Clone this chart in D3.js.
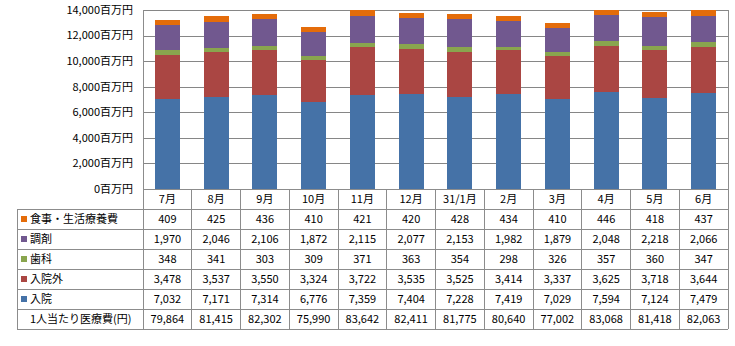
<!DOCTYPE html>
<html><head><meta charset="utf-8">
<script src="https://cdn.jsdelivr.net/npm/d3@7/dist/d3.min.js"></script>
<style>
html,body{margin:0;padding:0;background:#fff;}
svg{display:block;font-family:"Noto Sans CJK JP","Noto Sans",sans-serif;}
</style></head>
<body><svg id="c" width="735" height="346"></svg>
<script>
const months = ["7月","8月","9月","10月","11月","12月","31/1月","2月","3月","4月","5月","6月"];
const nyuin    = [7032,7171,7314,6776,7359,7404,7228,7419,7029,7594,7124,7479];
const nyuingai = [3478,3537,3550,3324,3722,3535,3525,3414,3337,3625,3718,3644];
const shika    = [348,341,303,309,371,363,354,298,326,357,360,347];
const chozai   = [1970,2046,2106,1872,2115,2077,2153,1982,1879,2048,2218,2066];
const shokuji  = [409,425,436,410,421,420,428,434,410,446,418,437];
const perCapita = [79864,81415,82302,75990,83642,82411,81775,80640,77002,83068,81418,82063];
const yTicks = [0,2000,4000,6000,8000,10000,12000,14000];
const seriesNames = ["入院","入院外","歯科","調剤","食事・生活療養費"];
const seriesColors = ["#4572A7","#AA4643","#89A54E","#71588F","#E46C0A"];
const seriesValues = [nyuin, nyuingai, shika, chozai, shokuji];
const perCapitaLabel = "1人当たり医療費(円)";
const unit = "百万円";

const svg = d3.select("#c");
const L = 143, R = 728, T = 10, B = 189, tableLeft = 17, rowH = 20;

const x = d3.scaleBand().domain(months).range([L, R]).paddingInner(0.49).paddingOuter(0.245);
const y = d3.scaleLinear().domain([0, 14000]).range([B, T]);

// gridlines
const gridAxis = d3.axisLeft(y).tickValues(yTicks).tickSize(-(R - L)).tickFormat("");
const g = svg.append("g").attr("transform", `translate(${L},0)`).call(gridAxis);
g.select(".domain").remove();
g.selectAll("line").attr("stroke", "#868686").attr("shape-rendering", "crispEdges");

// y labels
svg.append("g").selectAll("text").data(yTicks).join("text")
  .attr("x", 133).attr("y", d => y(d)).attr("dy", "0.35em")
  .attr("text-anchor", "end").attr("font-size", 11).attr("fill", "#000")
  .text(d => d3.format(",")(d) + unit);

// stacked bars
const table = months.map((m, i) => {
  const o = { month: m };
  seriesNames.forEach((s, k) => o[s] = seriesValues[k][i]);
  return o;
});
const stack = d3.stack().keys(seriesNames)(table);
svg.append("clipPath").attr("id", "clip").append("rect").attr("x", L).attr("y", T).attr("width", R - L).attr("height", B - T);
const bars = svg.append("g").attr("clip-path", "url(#clip)");
stack.forEach((layer, k) => {
  bars.append("g").attr("fill", seriesColors[k]).selectAll("rect").data(layer).join("rect")
    .attr("x", d => x(d.data.month)).attr("width", x.bandwidth())
    .attr("y", d => y(d[1])).attr("height", d => y(d[0]) - y(d[1]))
    .attr("shape-rendering", "crispEdges");
});

// table lines
const lines = svg.append("g").attr("stroke", "#8c8c8c").attr("shape-rendering", "crispEdges");
const rowsTotal = 6;
const tableBottom = B + rowH * (rowsTotal + 1);
// verticals
lines.append("line").attr("x1", L).attr("x2", L).attr("y1", T).attr("y2", tableBottom);
lines.append("line").attr("x1", R).attr("x2", R).attr("y1", T).attr("y2", tableBottom);
lines.append("line").attr("x1", tableLeft).attr("x2", tableLeft).attr("y1", B + rowH).attr("y2", tableBottom);
const step = x.step();
months.slice(1).forEach((m, i) => {
  const xx = L + step * (i + 1);
  lines.append("line").attr("x1", xx).attr("x2", xx).attr("y1", B).attr("y2", tableBottom);
});
// horizontals
lines.append("line").attr("x1", L).attr("x2", R).attr("y1", B).attr("y2", B);
for (let r = 1; r <= rowsTotal + 1; r++) {
  const yy = B + rowH * r;
  lines.append("line").attr("x1", tableLeft).attr("x2", R).attr("y1", yy).attr("y2", yy);
}

// header labels
svg.append("g").selectAll("text").data(months).join("text")
  .attr("x", d => x(d) + x.bandwidth() / 2).attr("y", B + rowH / 2).attr("dy", "0.35em")
  .attr("text-anchor", "middle").attr("font-size", 11).attr("fill", "#000").text(d => d);

// rows (top to bottom: reverse series order) + per capita
const rowDefs = seriesNames.map((s, k) => ({ name: s, color: seriesColors[k], vals: seriesValues[k] })).reverse();
rowDefs.push({ name: perCapitaLabel, color: null, vals: perCapita });
const fmt = d3.format(",");
rowDefs.forEach((r, ri) => {
  const cy = B + rowH * (ri + 1) + rowH / 2;
  if (r.color) {
    svg.append("rect").attr("x", 21).attr("y", cy - 3).attr("width", 6).attr("height", 6).attr("fill", r.color);
  }
  svg.append("text").attr("x", 30).attr("y", cy).attr("dy", "0.35em")
    .attr("font-size", 11).attr("fill", "#000").text(r.name);
  svg.append("g").selectAll("text").data(r.vals).join("text")
    .attr("x", (d, i) => x(months[i]) + x.bandwidth() / 2).attr("y", cy).attr("dy", "0.35em")
    .attr("text-anchor", "middle").attr("font-size", 11).attr("fill", "#000").text(d => fmt(d));
});
</script></body></html>
